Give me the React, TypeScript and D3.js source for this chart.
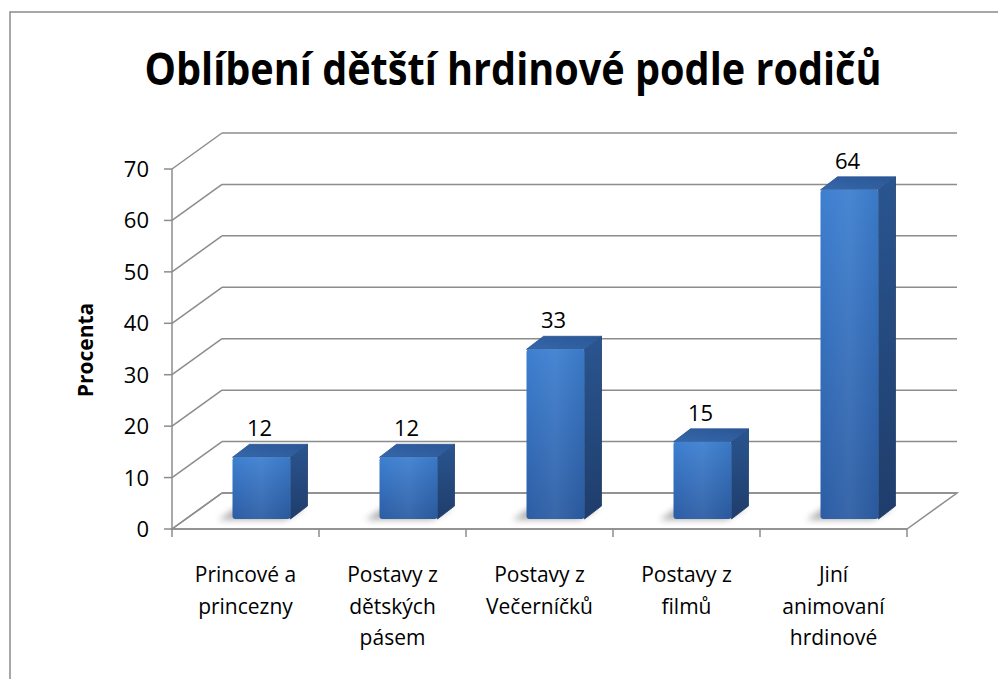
import React from "react";
import * as d3 from "d3";

const categories: string[][] = [
  ["Princové a", "princezny"],
  ["Postavy z", "dětských", "pásem"],
  ["Postavy z", "Večerníčků"],
  ["Postavy z", "filmů"],
  ["Jiní", "animovaní", "hrdinové"],
];
const values: number[] = [12, 12, 33, 15, 64];
const yTicks: number[] = [0, 10, 20, 30, 40, 50, 60, 70];
const title = "Oblíbení dětští hrdinové podle rodičů";
const yTitle = "Procenta";

const W = 998;
const H = 679;
const FONT = "'Open Sans', 'Liberation Sans', sans-serif";

export default function App() {
  const x0 = 172, x1 = 907, yBase = 529, yTop = 169;
  const backDx = 50, backDy = -36;
  const y = d3.scaleLinear().domain([0, 70]).range([yBase, yTop]);
  const x = d3.scaleBand<number>().domain(categories.map((_, i) => i)).range([x0, x1]);
  const bw = 58, bdx = 17, bdy = -13;
  const frontShiftX = 16, frontShiftY = -10;
  const grid = "#8c8c8c";

  const pts = (p: number[][]) => p.map((q) => q.join(",")).join(" ");

  return (
    <div style={{ position: "absolute", left: 0, top: 0 }}>
      <svg width={W} height={H} style={{ display: "block", background: "#fff" }}>
        <defs>
          <linearGradient id="front" x1="0" y1="0" x2="0" y2="1">
            <stop offset="0" stopColor="#3d7fd0" />
            <stop offset="1" stopColor="#2c5da4" />
          </linearGradient>
          <linearGradient id="frontH" x1="0" y1="0" x2="1" y2="0">
            <stop offset="0" stopColor="#ffffff" stopOpacity="0.0" />
            <stop offset="0.5" stopColor="#ffffff" stopOpacity="0.06" />
            <stop offset="1" stopColor="#000000" stopOpacity="0.05" />
          </linearGradient>
          <linearGradient id="side" x1="0" y1="0" x2="0" y2="1">
            <stop offset="0" stopColor="#2a5590" />
            <stop offset="1" stopColor="#1f3d6b" />
          </linearGradient>
          <linearGradient id="top" x1="0" y1="1" x2="1" y2="0">
            <stop offset="0" stopColor="#3668ac" />
            <stop offset="1" stopColor="#2a5694" />
          </linearGradient>
          <filter id="blur" x="-50%" y="-50%" width="200%" height="200%">
            <feGaussianBlur stdDeviation="3" />
          </filter>
        </defs>
        <rect x={10} y={12} width={W + 10} height={H + 10} fill="#fff" stroke="#8a8a8a" strokeWidth={1.5} />

        {/* title */}
        <text x={513} y={85} textAnchor="middle" fontFamily={FONT} fontWeight="bold" fontSize={44}
          textLength={737} lengthAdjust="spacingAndGlyphs" fill="#000">{title}</text>

        {/* floor */}
        <polygon points={pts([[x0, yBase], [x1, yBase], [x1 + backDx, yBase + backDy], [x0 + backDx, yBase + backDy]])}
          fill="none" stroke={grid} strokeWidth={1.5} />

        {/* back wall gridlines + side wall diagonals */}
        {yTicks.map((t) => (
          <g key={t}>
            <line x1={x0 + backDx} x2={x1 + backDx} y1={y(t) + backDy} y2={y(t) + backDy} stroke={grid} strokeWidth={1.5} />
            <line x1={x0} x2={x0 + backDx} y1={y(t)} y2={y(t) + backDy} stroke={grid} strokeWidth={1.5} />
            <line x1={x0 - 8} x2={x0} y1={y(t)} y2={y(t)} stroke={grid} strokeWidth={1.5} />
            <text x={149} y={y(t) + 8} textAnchor="end" fontFamily={FONT} fontSize={22} fill="#000">{t}</text>
          </g>
        ))}
        <line x1={x0} x2={x0} y1={yBase} y2={yTop} stroke={grid} strokeWidth={1.5} />
        <line x1={x0} x2={x1} y1={yBase} y2={yBase} stroke={grid} strokeWidth={1.5} />
        {d3.range(categories.length + 1).map((i) => {
          const xx = x0 + i * x.bandwidth();
          return <line key={i} x1={xx} x2={xx} y1={yBase} y2={yBase + 8} stroke={grid} strokeWidth={1.5} />;
        })}

        {/* y title */}
        <text transform={`translate(93,350) rotate(-90)`} textAnchor="middle" fontFamily={FONT} fontWeight="bold"
          fontSize={21} fill="#000">{yTitle}</text>

        {/* bars */}
        {values.map((v, i) => {
          const cx = (x(i) as number) + x.bandwidth() / 2 + frontShiftX;
          const bx = cx - bw / 2;
          const bb = yBase + frontShiftY;
          const bt = bb - (yBase - y(v));
          return (
            <g key={i}>
              <polygon points={pts([[bx - 14, bb + 1], [bx + bw - 6, bb + 1], [bx + bw + bdx - 2, bb + bdy + 2], [bx + bdx - 14, bb + bdy + 2]])}
                fill="#6e6e6e" opacity={0.55} filter="url(#blur)" />
              <polygon points={pts([[bx + bw, bt], [bx + bw + bdx, bt + bdy], [bx + bw + bdx, bb + bdy], [bx + bw, bb]])}
                fill="url(#side)" stroke="#1f3d6b" strokeWidth={0.8} strokeLinejoin="round" />
              <polygon points={pts([[bx, bt], [bx + bdx, bt + bdy], [bx + bw + bdx, bt + bdy], [bx + bw, bt]])}
                fill="url(#top)" stroke="#2a5694" strokeWidth={0.8} strokeLinejoin="round" />
              <rect x={bx} y={bt} width={bw} height={bb - bt} rx={3} fill="url(#front)" />
              <rect x={bx} y={bt} width={bw} height={bb - bt} rx={3} fill="url(#frontH)" />
              <text x={cx - 2} y={bt - 21} textAnchor="middle" fontFamily={FONT} fontSize={22} fill="#000">{v}</text>
            </g>
          );
        })}

        {/* category labels */}
        {categories.map((lines, i) => {
          const cx = (x(i) as number) + x.bandwidth() / 2;
          return (
            <text key={i} textAnchor="middle" fontFamily={FONT} fontSize={21} fill="#000">
              {lines.map((l, j) => (
                <tspan key={j} x={cx} y={582 + j * 31.5}>{l}</tspan>
              ))}
            </text>
          );
        })}
      </svg>
    </div>
  );
}
